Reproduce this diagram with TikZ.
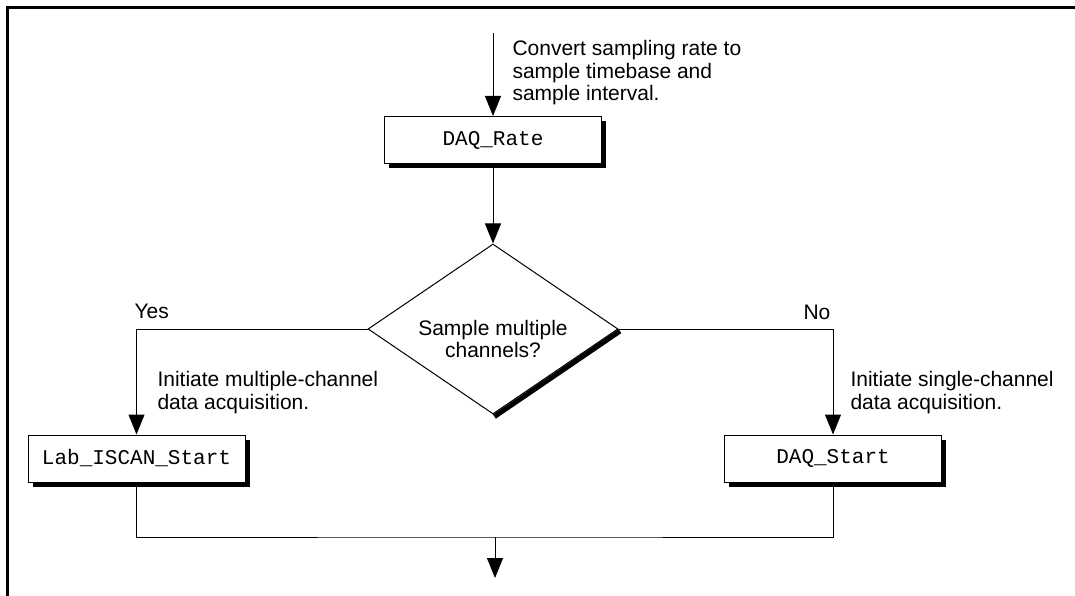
\documentclass[tikz,border=0pt]{standalone}
\usepackage{fontspec}
\setmainfont{Liberation Sans}
\setmonofont{Liberation Mono}
\usetikzlibrary{shapes.geometric,shadows,arrows.meta}

\begin{document}
\begin{tikzpicture}[x=1pt,y=-1pt,
  line width=1pt,
  font=\fontsize{21}{22.5}\selectfont,
  >={Triangle[length=20pt,width=16pt]},
  func/.style={draw,fill=white,font=\ttfamily\fontsize{21}{22.5}\selectfont,
    minimum width=217pt,minimum height=47pt,inner sep=0pt,
    drop shadow={shadow xshift=4.5pt,shadow yshift=-4.5pt,fill=black,opacity=1}},
  test/.style={draw,diamond,shape aspect=1.47,minimum width=250pt,
    minimum height=170pt,inner sep=0pt},
  note/.style={align=left,anchor=base west,inner sep=0pt}]
\useasboundingbox (0,0) rectangle (1075,596);
\draw[line width=3pt] (7,596) -- (7,8) -- (1075,8);

\coordinate (in) at (493,33);
\node[func] (rate) at (493,140) {DAQ\_Rate};
\node[test,label={[align=center,yshift=-10pt]center:Sample multiple\\channels?}] (choice) at (493,329) {};
\node[func] (iscan) at (136.5,458.5) {Lab\_ISCAN\_Start};
\node[func] (start) at (833,458.5) {DAQ\_Start};
\coordinate (join) at (495,537);
\coordinate (out) at (495,578);

\draw[line width=5pt] ([shift={(1.4,2.1)}]choice.east) -- ([shift={(1.4,2.1)}]choice.south);

\draw[->] (in) -- (rate);
\draw[->] (rate) -- (choice);
\draw[->] (choice.west) -| (iscan);
\draw[->] (choice.east) -| (start);
\draw (iscan) |- (join) -| (start);
\draw[->] (join) -- (out);

\node[note] (convert) at (512,101) {Convert sampling rate to\\sample timebase and\\sample interval.};
\node[note] (yes) at (134,318) {Yes};
\node[note] (no) at (803,319) {No};
\node[note] (multi) at (157,409) {Initiate multiple-channel\\data acquisition.};
\node[note] (single) at (850,409) {Initiate single-channel\\data acquisition.};
\end{tikzpicture}
\end{document}
